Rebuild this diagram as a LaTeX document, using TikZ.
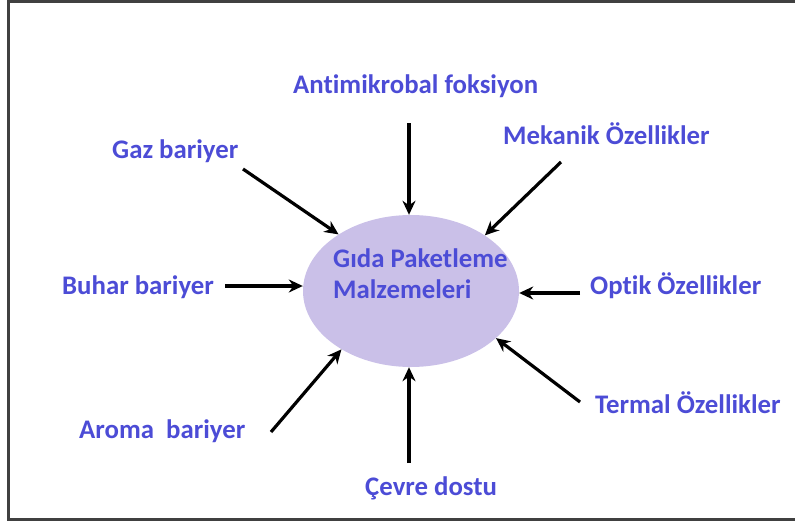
\documentclass[tikz,border=0pt]{standalone}
\usepackage{fontspec}
\setmainfont[Ligatures=NoCommon,RawFeature={-liga;-dlig}]{Carlito}
\usetikzlibrary{shapes.geometric,arrows.meta}
\definecolor{labelblue}{RGB}{76,76,214}
\definecolor{lavender}{RGB}{202,192,232}
\definecolor{framegray}{RGB}{64,64,64}
\tikzset{
  lbl/.style={anchor=base west,inner sep=0pt,text=labelblue,font=\fontsize{26.8}{31}\selectfont\bfseries},
  arr/.style={draw=black,line width=3.2pt,-{Stealth[length=14pt,width=13pt]}},
  hub/.style={ellipse,fill=lavender,draw=none,minimum width=216pt,minimum height=152pt,inner sep=0pt}
}
\begin{document}
\begin{tikzpicture}[x=1pt,y=-1pt]
\useasboundingbox (0,0) rectangle (795,522);
\draw[framegray,line width=2.5pt] (796,1.5) -- (8.5,1.5) -- (8.5,519.5) -- (796,519.5);

\node[hub] (ell) at (411,291) {};
\node[lbl,align=left,anchor=north west] (title) at (333,248) {Gıda Paketleme\\Malzemeleri};

\node[lbl] (anti) at (293,93) {Antimikrobal foksiyon};
\node[lbl] (gaz) at (112,158) {Gaz bariyer};
\node[lbl] (mek) at (503,144) {Mekanik Özellikler};
\node[lbl] (buhar) at (62,294) {Buhar bariyer};
\node[lbl] (optik) at (590,294) {Optik Özellikler};
\node[lbl] (aroma) at (79,438) {Aroma\ \ bariyer};
\node[lbl] (cevre) at (365,495) {Çevre dostu};
\node[lbl] (termal) at (595,413) {Termal Özellikler};

\coordinate (tanti) at (409,123);
\coordinate (tgaz) at (243,169);
\coordinate (tmek) at (561,162);
\coordinate (tbuhar) at (225,286);
\coordinate (toptik) at (580,293);
\coordinate (taroma) at (271,432);
\coordinate (tcevre) at (409,463);
\coordinate (ttermal) at (580,402);

\draw[arr] (tanti) -- (tanti |- ell.north);
\draw[arr] (tgaz) -- (ell.142);
\draw[arr] (tmek) -- (ell.37);
\draw[arr] (tbuhar) -- (tbuhar -| ell.west);
\draw[arr] (toptik) -- (toptik -| ell.east);
\draw[arr] (taroma) -- (ell.220);
\draw[arr] (tcevre) -- (tcevre |- ell.south);
\draw[arr] (ttermal) -- (ell.-29);
\end{tikzpicture}
\end{document}
